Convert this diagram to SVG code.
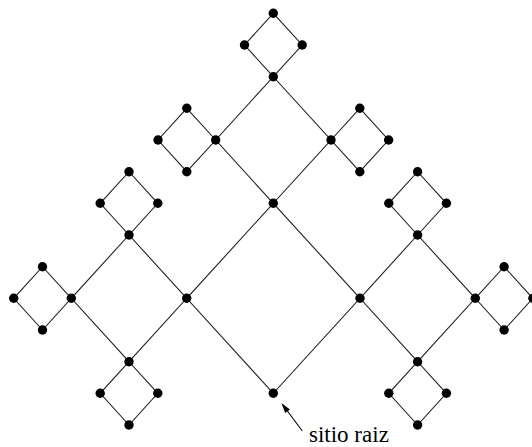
<svg xmlns="http://www.w3.org/2000/svg" width="532" height="447" viewBox="0 0 532 447">
<style>
.e{stroke:#222;stroke-width:1.1;fill:none}
.n{fill:#000}
.t{font-family:"Liberation Serif",serif;font-size:23px;fill:#000}
</style>
<defs>
<marker id="ah" markerWidth="10" markerHeight="8" refX="9" refY="4" orient="auto" markerUnits="userSpaceOnUse">
<path d="M0,1 L10,4 L0,7 Z" fill="#000"/>
</marker>
</defs>
<rect width="532" height="447" fill="#fff"/>
<g id="connectors">
<path class="e" d="M273.3,393.3 L186.7,298.3 L273.3,203.3 L360,298.3 Z"/>
<path class="e" d="M273.3,203.3 L215.7,140 L273.3,76.7 L331,140 Z"/>
<path class="e" d="M273.3,76.7 L244.5,45 L273.3,13.3 L302.2,45 Z"/>
<path class="e" d="M215.7,140 L186.8,108.3 L158,140 L186.8,171.7 Z"/>
<path class="e" d="M331,140 L359.8,108.3 L388.6,140 L359.8,171.7 Z"/>
<path class="e" d="M186.7,298.3 L129,235 L71.3,298.3 L129,361.7 Z"/>
<path class="e" d="M129,235 L100.2,203.3 L129,171.7 L157.8,203.3 Z"/>
<path class="e" d="M71.3,298.3 L42.5,266.7 L13.7,298.3 L42.5,330 Z"/>
<path class="e" d="M129,361.7 L100.2,393.3 L129,425 L157.8,393.3 Z"/>
<path class="e" d="M360,298.3 L417.6,235 L475.3,298.3 L417.6,361.7 Z"/>
<path class="e" d="M417.6,235 L388.8,203.3 L417.6,171.7 L446.4,203.3 Z"/>
<path class="e" d="M475.3,298.3 L504.1,266.7 L532.9,298.3 L504.1,330 Z"/>
<path class="e" d="M417.6,361.7 L388.8,393.3 L417.6,425 L446.4,393.3 Z"/>
<line x1="302.3" y1="431" x2="282.2" y2="404" stroke="#000" stroke-width="1.1" marker-end="url(#ah)"/>
</g>
<g id="nodes">
<g id="n-root"><circle class="n" cx="273.3" cy="393.3" r="4.7"/></g>
<g id="n-L"><circle class="n" cx="186.7" cy="298.3" r="4.7"/></g>
<g id="n-R"><circle class="n" cx="360" cy="298.3" r="4.7"/></g>
<g id="n-T"><circle class="n" cx="273.3" cy="203.3" r="4.7"/></g>
<g id="n-t1"><circle class="n" cx="215.7" cy="140" r="4.7"/></g>
<g id="n-t2"><circle class="n" cx="331" cy="140" r="4.7"/></g>
<g id="n-t3"><circle class="n" cx="273.3" cy="76.7" r="4.7"/></g>
<g id="n-t4"><circle class="n" cx="244.5" cy="45" r="4.7"/></g>
<g id="n-t5"><circle class="n" cx="302.2" cy="45" r="4.7"/></g>
<g id="n-t6"><circle class="n" cx="273.3" cy="13.3" r="4.7"/></g>
<g id="n-t7"><circle class="n" cx="186.8" cy="108.3" r="4.7"/></g>
<g id="n-t8"><circle class="n" cx="186.8" cy="171.7" r="4.7"/></g>
<g id="n-t9"><circle class="n" cx="158" cy="140" r="4.7"/></g>
<g id="n-t10"><circle class="n" cx="359.8" cy="108.3" r="4.7"/></g>
<g id="n-t11"><circle class="n" cx="359.8" cy="171.7" r="4.7"/></g>
<g id="n-t12"><circle class="n" cx="388.6" cy="140" r="4.7"/></g>
<g id="n-l1"><circle class="n" cx="129" cy="235" r="4.7"/></g>
<g id="n-l2"><circle class="n" cx="71.3" cy="298.3" r="4.7"/></g>
<g id="n-l3"><circle class="n" cx="129" cy="361.7" r="4.7"/></g>
<g id="n-l4"><circle class="n" cx="100.2" cy="203.3" r="4.7"/></g>
<g id="n-l5"><circle class="n" cx="157.8" cy="203.3" r="4.7"/></g>
<g id="n-l6"><circle class="n" cx="129" cy="171.7" r="4.7"/></g>
<g id="n-l7"><circle class="n" cx="42.5" cy="266.7" r="4.7"/></g>
<g id="n-l8"><circle class="n" cx="42.5" cy="330" r="4.7"/></g>
<g id="n-l9"><circle class="n" cx="13.7" cy="298.3" r="4.7"/></g>
<g id="n-l10"><circle class="n" cx="100.2" cy="393.3" r="4.7"/></g>
<g id="n-l11"><circle class="n" cx="157.8" cy="393.3" r="4.7"/></g>
<g id="n-l12"><circle class="n" cx="129" cy="425" r="4.7"/></g>
<g id="n-r1"><circle class="n" cx="417.6" cy="235" r="4.7"/></g>
<g id="n-r2"><circle class="n" cx="475.3" cy="298.3" r="4.7"/></g>
<g id="n-r3"><circle class="n" cx="417.6" cy="361.7" r="4.7"/></g>
<g id="n-r4"><circle class="n" cx="388.8" cy="203.3" r="4.7"/></g>
<g id="n-r5"><circle class="n" cx="446.4" cy="203.3" r="4.7"/></g>
<g id="n-r6"><circle class="n" cx="417.6" cy="171.7" r="4.7"/></g>
<g id="n-r7"><circle class="n" cx="504.1" cy="266.7" r="4.7"/></g>
<g id="n-r8"><circle class="n" cx="504.1" cy="330" r="4.7"/></g>
<g id="n-r9"><circle class="n" cx="532.9" cy="298.3" r="4.7"/></g>
<g id="n-r10"><circle class="n" cx="388.8" cy="393.3" r="4.7"/></g>
<g id="n-r11"><circle class="n" cx="446.4" cy="393.3" r="4.7"/></g>
<g id="n-r12"><circle class="n" cx="417.6" cy="425" r="4.7"/></g>
</g>
<g id="label"><text class="t" x="309" y="441.5">sitio raiz</text></g>
</svg>
